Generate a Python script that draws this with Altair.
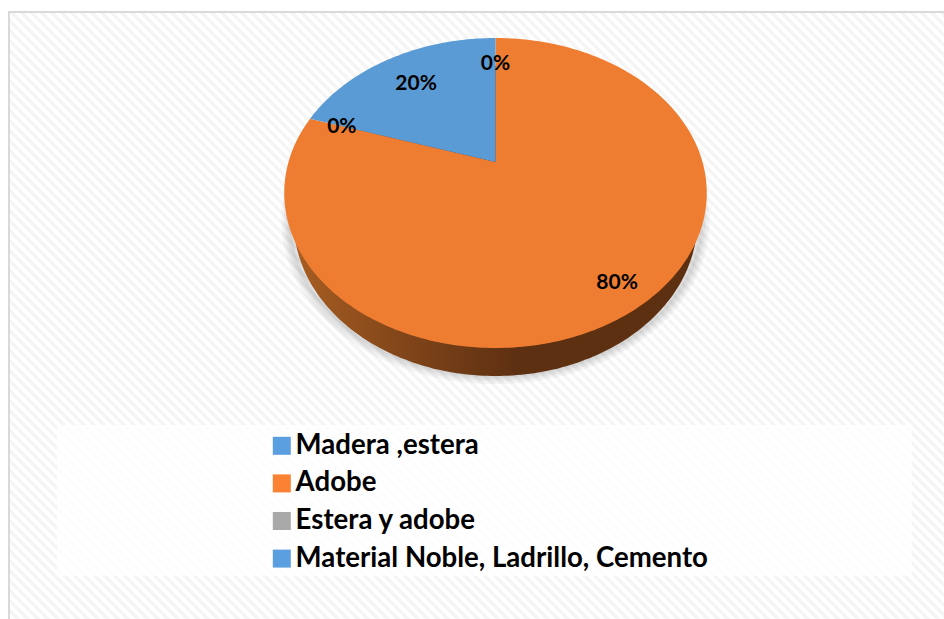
import math

import altair as alt
import pandas as pd

# Survey results: wall material of the dwellings, in percent.
categories = ["Madera ,estera", "Adobe", "Estera y adobe", "Material Noble, Ladrillo, Cemento"]
shares = [0, 80, 0, 20]
label_reach = [0.77, 0.86, 0.82, 0.73]
pie_colours = ["#5b9bd5", "#ef7d31", "#a5a5a5", "#5b9bd5"]
key_colours = ["#5c9fe0", "#fa8232", "#a9a9a9", "#5c9fe0"]

WIDTH, HEIGHT = 944, 619
HUB_X, HUB_Y = 495.5, 162.0
SPREAD_X, SPREAD_Y, TILT = 207.0, 148.8, 0.2
RIM_DROP = 28.0
RIM_NARROW = 0.955


def on_disc(turn, reach=1.0, drop=0.0, narrow=1.0):
    """Perspective projection of a point on the pie disc; turn runs clockwise from the top."""
    u = reach * math.sin(turn * 2 * math.pi)
    v = reach * math.cos(turn * 2 * math.pi)
    w = 1 + TILT * v
    return HUB_X + narrow * SPREAD_X * u / w, HUB_Y - SPREAD_Y * v / w + drop


def ring(drop=0.0, narrow=1.0, steps=360):
    rows = [on_disc(k / steps, 1.0, drop, narrow) for k in range(steps + 1)]
    return pd.DataFrame({"x": [r[0] for r in rows], "y": [r[1] for r in rows], "i": range(len(rows))})


def wedge(start, sweep):
    steps = max(2, int(sweep * 360))
    rows = [(HUB_X, HUB_Y)] + [on_disc(start + sweep * k / steps) for k in range(steps + 1)] + [(HUB_X, HUB_Y)]
    return pd.DataFrame({"x": [r[0] for r in rows], "y": [r[1] for r in rows], "i": range(len(rows))})


x_scale = alt.Scale(domain=[0, WIDTH], range=[0, WIDTH], nice=False, zero=False)
y_scale = alt.Scale(domain=[0, HEIGHT], range=[0, HEIGHT], nice=False, zero=False)
X = alt.X("x:Q", scale=x_scale, axis=None)
Y = alt.Y("y:Q", scale=y_scale, axis=None)


def outline(frame, **mark):
    return alt.Chart(frame).mark_line(**mark).encode(x=X, y=Y, order=alt.Order("i:Q"))


# Diagonal weave of the chart background.
stripes = pd.DataFrame({"x": list(range(-HEIGHT, WIDTH, 10))})
stripes["x2"] = stripes["x"] + HEIGHT
stripes["y"] = 12
stripes["y2"] = HEIGHT + 12
weave = alt.Chart(stripes).mark_rule(color="#f5f5f5", strokeWidth=3.5).encode(
    x=X, y=Y, x2="x2:Q", y2="y2:Q"
)
blank_left = alt.Chart(pd.DataFrame({"x": [0], "x2": [9], "y": [0], "y2": [HEIGHT]})).mark_rect(color="white").encode(
    x=X, y=Y, x2="x2:Q", y2="y2:Q"
)
blank_top = alt.Chart(pd.DataFrame({"x": [0], "x2": [WIDTH], "y": [0], "y2": [12]})).mark_rect(color="white").encode(
    x=X, y=Y, x2="x2:Q", y2="y2:Q"
)
frame_left = alt.Chart(pd.DataFrame({"x": [9], "y": [11], "y2": [HEIGHT]})).mark_rule(
    color="#d9d9d9", strokeWidth=2
).encode(x=X, y=Y, y2="y2:Q")
frame_top = alt.Chart(pd.DataFrame({"x": [8], "x2": [WIDTH], "y": [12]})).mark_rule(
    color="#d9d9d9", strokeWidth=2
).encode(x=X, x2="x2:Q", y=Y)

# Panel behind the legend.
panel = alt.Chart(pd.DataFrame({"x": [57], "x2": [912], "y": [425], "y2": [576]})).mark_rect(
    color="white", opacity=0.8
).encode(x=X, y=Y, x2="x2:Q", y2="y2:Q")

# Soft shadow under the pie, then its side wall and top face.
shadow = [
    outline(ring(RIM_DROP, 0.975), stroke="#000000", strokeWidth=w, opacity=0.035, fill="#000000", fillOpacity=0)
    for w in (16, 11, 7, 3)
]
rim_fill = alt.Gradient(
    gradient="linear",
    x1=0, x2=1, y1=0, y2=0,
    stops=[
        alt.GradientStop(color="#a85e22", offset=0.0),
        alt.GradientStop(color="#84471a", offset=0.25),
        alt.GradientStop(color="#5e3012", offset=0.55),
        alt.GradientStop(color="#5e3012", offset=1.0),
    ],
)
rim = outline(ring(RIM_DROP, RIM_NARROW), fill=rim_fill, strokeWidth=0)

sectors = []
turn = 0.0
for share, colour in zip(shares, pie_colours):
    sweep = share / sum(shares)
    if sweep > 0:
        sectors.append(outline(wedge(turn, sweep), fill=colour, strokeWidth=0))
    turn += sweep

# Percentage labels at mid-sector.
label_rows = []
turn = 0.0
for share, reach in zip(shares, label_reach):
    sweep = share / sum(shares)
    lx, ly = on_disc(turn + sweep / 2, reach)
    label_rows.append({"x": lx, "y": ly, "share": share / 100})
    turn += sweep
labels = alt.Chart(pd.DataFrame(label_rows)).mark_text(
    font="Lato", fontWeight="bold", fontSize=21, color="black", dy=1
).encode(x=X, y=Y, text=alt.Text("share:Q", format=".0%"))

# Legend, driven by the category colours.
key = alt.Chart(pd.DataFrame({"category": categories, "x": [0] * 4, "y": [0] * 4})).mark_square(size=0).encode(
    x=X,
    y=Y,
    color=alt.Color(
        "category:N",
        scale=alt.Scale(domain=categories, range=key_colours),
        legend=alt.Legend(
            orient="none",
            legendX=268,
            legendY=432,
            title=None,
            symbolType="square",
            symbolSize=324,
            symbolStrokeWidth=0,
            symbolOpacity=1,
            labelFont="Lato",
            labelFontWeight="bold",
            labelFontSize=27.6,
            labelColor="black",
            labelLimit=700,
            labelOffset=0,
            rowPadding=8.6,
        ),
    ),
)

chart = alt.layer(
    weave, blank_left, blank_top, frame_left, frame_top, panel, *shadow, rim, *sectors, labels, key
).properties(
    width=WIDTH,
    height=HEIGHT,
    padding=0,
    autosize=alt.AutoSizeParams(type="none"),
    background="white",
).configure_view(stroke=None)

chart.save("out.html", embed_options={"renderer": "svg", "actions": False})
